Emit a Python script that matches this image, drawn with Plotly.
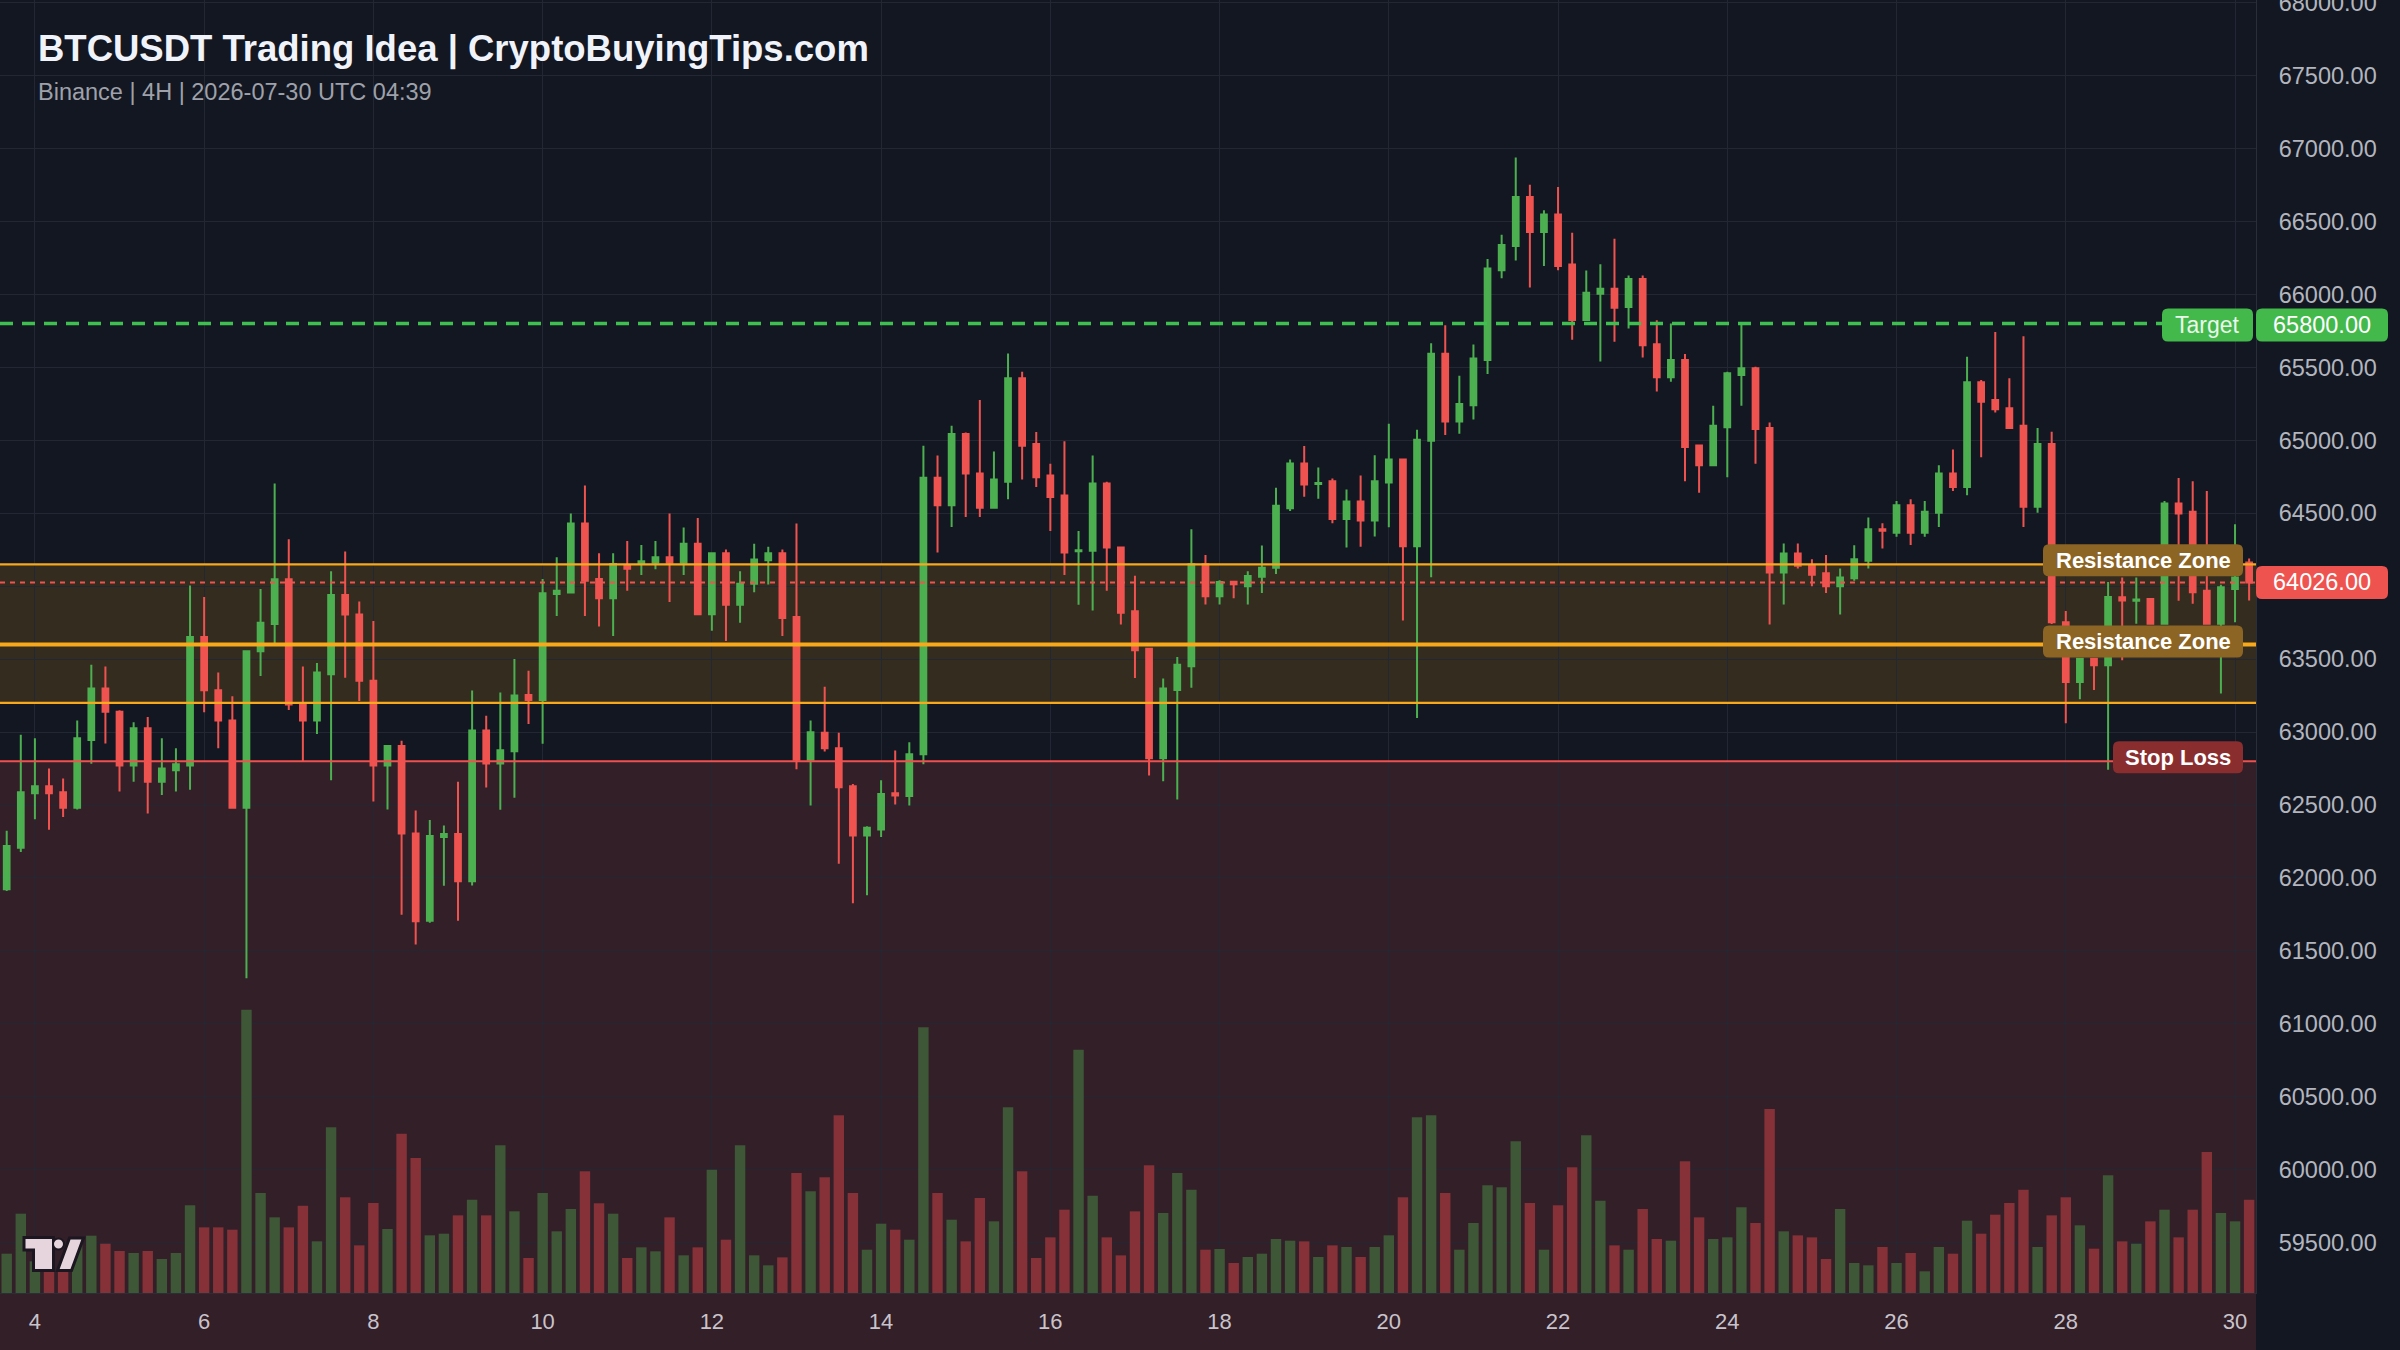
import plotly.graph_objects as go
import pandas as pd

TITLE = "BTCUSDT Trading Idea | CryptoBuyingTips.com"
SUBTITLE = "Binance | 4H | 2026-07-30 UTC 04:39"
START = "2026-07-03 16:00"

open_ = [61922, 62207, 62580, 62629, 62587, 62482, 62945, 63299, 63140, 62770,
         63026, 62660, 62738, 62770, 63652, 63286, 63079, 62482, 63554, 63740,
         64047, 63189, 63079, 63396, 63939, 63805, 63352, 62770, 62904, 62304,
         61706, 62280, 62301, 61977, 63011, 62784, 62868, 63254, 63220, 63946,
         63956, 64429, 64050, 63917, 64140, 64157, 64160, 64199, 64160, 64291,
         63808, 64225, 63873, 64016, 64178, 64225, 63789, 62810, 62996, 62889,
         62628, 62291, 62332, 62580, 62562, 62848, 64743, 64554, 65043, 64772,
         64538, 64715, 65425, 64974, 64758, 64622, 64240, 64242, 64704, 64265,
         63828, 63571, 62821, 63288, 63451, 64151, 63931, 64030, 64000, 64065,
         64126, 64535, 64841, 64700, 64719, 64460, 64580, 64451, 64711, 64869,
         64273, 64997, 65593, 65128, 65240, 65551, 66166, 66331, 66668, 66428,
         66548, 66205, 65824, 66005, 66038, 65914, 66105, 65659, 65432, 65550,
         64965, 64829, 65090, 65447, 65493, 65084, 64094, 64224, 64140, 64088,
         63999, 64054, 64174, 64390, 64367, 64554, 64367, 64504, 64772, 64679,
         65397, 65277, 65220, 65100, 64545, 64974, 63753, 63344, 63503, 63458,
         63924, 63900, 63912, 63742, 64567, 64510, 63969, 63742, 63981, 64163]
high = [62324, 62982, 62958, 62750, 62682, 63079, 63462, 63450, 63150, 63067,
        63104, 62958, 62889, 64005, 63925, 63408, 63245, 63560, 63981, 64704,
        64322, 63450, 63474, 64103, 64237, 63895, 63761, 62910, 62940, 62463,
        62398, 62359, 62659, 63285, 63111, 63272, 63500, 63421, 64050, 64199,
        64499, 64690, 64225, 64225, 64309, 64283, 64309, 64499, 64403, 64468,
        64225, 64251, 64102, 64291, 64270, 64251, 64429, 63080, 63310, 62996,
        62644, 62355, 62669, 62873, 62930, 64963, 64895, 65100, 65054, 65277,
        64924, 65595, 65470, 65056, 64840, 64993, 64379, 64895, 64715, 64270,
        64072, 63575, 63367, 63515, 64390, 64213, 64040, 64034, 64103, 64279,
        64674, 64869, 64961, 64813, 64738, 64663, 64758, 64897, 65114, 64875,
        65072, 65665, 65788, 65443, 65657, 66242, 66409, 66938, 66751, 66576,
        66737, 66423, 66164, 66206, 66381, 66130, 66130, 65823, 65800, 65591,
        64970, 65236, 65470, 65811, 65504, 65122, 64292, 64292, 64185, 64213,
        64122, 64281, 64470, 64431, 64583, 64595, 64583, 64829, 64936, 65572,
        65413, 65743, 65425, 65713, 65084, 65058, 63830, 63510, 63510, 64028,
        64060, 64060, 63915, 64583, 64742, 64720, 64652, 64010, 64424, 64190]
low = [61910, 62178, 62402, 62331, 62417, 62470, 62782, 62921, 62592, 62660,
       62441, 62568, 62592, 62604, 63135, 62889, 62475, 61313, 63384, 63591,
       63152, 62799, 62987, 62670, 63372, 63213, 62524, 62470, 61747, 61544,
       61693, 61946, 61706, 61949, 62620, 62468, 62549, 63056, 62920, 63795,
       63956, 63795, 63724, 63659, 63969, 64076, 64116, 63891, 64076, 63808,
       63695, 63625, 63750, 63959, 64011, 63659, 62745, 62497, 62867, 62098,
       61827, 61882, 62280, 62503, 62496, 62780, 64231, 64406, 64474, 64474,
       64530, 64595, 64731, 64679, 64379, 64076, 63872, 63833, 63969, 63738,
       63371, 62703, 62662, 62537, 63303, 63874, 63875, 63917, 63875, 63953,
       64084, 64516, 64613, 64599, 64432, 64265, 64270, 64340, 64404, 63764,
       63096, 64062, 65036, 65045, 65142, 65454, 66111, 66233, 66047, 66194,
       66166, 65690, 65820, 65540, 65676, 65766, 65568, 65334, 65402, 64720,
       64640, 64825, 64747, 65236, 64840, 63737, 63874, 64122, 63999, 63954,
       63806, 64038, 64122, 64258, 64338, 64283, 64338, 64406, 64652, 64624,
       64884, 65190, 65080, 64406, 64504, 63740, 63060, 63225, 63288, 62742,
       63492, 63742, 63745, 63740, 63900, 63879, 63735, 63265, 63753, 63901]
close = [62219, 62587, 62629, 62580, 62482, 62957, 63299, 63140, 62770, 63026,
         62660, 62750, 62780, 63652, 63286, 63079, 62482, 63554, 63749, 64047,
         63189, 63079, 63408, 63939, 63805, 63352, 62770, 62904, 62304, 61703,
         62288, 62301, 61977, 63011, 62784, 62876, 63251, 63220, 63951, 63969,
         64429, 64037, 63917, 64152, 64120, 64170, 64199, 64160, 64291, 63808,
         64225, 63873, 64016, 64183, 64225, 63781, 62810, 62998, 62889, 62621,
         62291, 62344, 62576, 62565, 62848, 64743, 64554, 65043, 64772, 64538,
         64731, 65425, 64963, 64747, 64611, 64231, 64247, 64704, 64265, 63817,
         63560, 62821, 63299, 63462, 64151, 63931, 64028, 64013, 64070, 64126,
         64552, 64841, 64697, 64708, 64460, 64580, 64451, 64719, 64869, 64273,
         65003, 65593, 65128, 65248, 65560, 66178, 66339, 66668, 66428, 66548,
         66194, 65824, 66011, 66038, 65908, 66105, 65652, 65432, 65550, 64954,
         64829, 65100, 65459, 65493, 65077, 64094, 64224, 64140, 64079, 63999,
         64060, 64185, 64390, 64380, 64554, 64367, 64511, 64772, 64679, 65397,
         65265, 65213, 65084, 64545, 64974, 63753, 63344, 63503, 63458, 63926,
         63901, 63908, 63742, 64567, 64499, 63958, 63742, 63992, 64060, 64026]
volume = [118, 238, 95, 70, 75, 150, 172, 148, 126, 120,
          126, 102, 120, 263, 197, 197, 190, 850, 300, 227,
          197, 262, 155, 497, 287, 143, 270, 192, 478, 405,
          173, 178, 233, 280, 233, 443, 245, 105, 300, 185,
          252, 365, 269, 238, 105, 137, 125, 227, 113, 137,
          370, 160, 443, 113, 83, 107, 360, 305, 347, 533,
          300, 130, 208, 190, 160, 797, 300, 220, 155, 285,
          215, 557, 365, 105, 167, 250, 730, 292, 167, 113,
          245, 383, 240, 360, 310, 130, 132, 90, 108, 118,
          162, 157, 155, 108, 143, 138, 108, 138, 173, 287,
          527, 533, 300, 130, 210, 323, 317, 455, 270, 130,
          263, 377, 473, 277, 143, 130, 252, 162, 157, 395,
          227, 162, 167, 257, 210, 552, 185, 173, 167, 102,
          252, 90, 83, 138, 90, 120, 65, 138, 118, 217,
          178, 235, 270, 310, 138, 233, 287, 203, 133, 353,
          155, 148, 215, 250, 167, 250, 423, 240, 215, 280]

TARGET = 65800
ZONE_1 = (63600, 64150)
ZONE_2 = (63200, 63600)
STOP = 62800
LAST = 64026
tick_days = [4, 6, 8, 10, 12, 14, 16, 18, 20, 22, 24, 26, 28, 30]
price_ticks = [59500 + 500 * k for k in range(18)]

# ---- styling / layout constants ----
W, H = 2400, 1350
ML, MR, MT, MB = 0, 144, 0, 57
PW, PH = W - ML - MR, H - MT - MB
YMIN, YMAX = 59155, 68018
VMAX = 3879
X0, X1 = "2026-07-03 14:06", "2026-07-30 05:57"

BG = "#131722"
GRID = "#232733"
UP = "#4caf50"
DOWN = "#ef5350"
UP_VOL = "#3e5737"
DOWN_VOL = "#853137"
ORANGE = "#f7a81b"
FONT = "Liberation Sans, Arial, sans-serif"

times = pd.date_range(START, periods=len(close), freq="4h")
is_up = [c >= o for o, c in zip(open_, close)]

fig = go.Figure()
fig.add_trace(go.Bar(
    x=times, y=volume, yaxis="y2",
    marker=dict(color=[UP_VOL if u else DOWN_VOL for u in is_up], line_width=0),
    width=0.74 * 4 * 3600 * 1000, hoverinfo="skip"))
fig.add_trace(go.Candlestick(
    x=times, open=open_, high=high, low=low, close=close,
    increasing=dict(line=dict(color=UP, width=2), fillcolor=UP),
    decreasing=dict(line=dict(color=DOWN, width=2), fillcolor=DOWN),
    whiskerwidth=0, hoverinfo="skip"))


def pyp(p):
    return (YMAX - p) / (YMAX - YMIN) * PH


def xp(px):
    return px / PW


def yp(py):
    return (PH - py) / PH


def rrect(x0, x1, yc, h, r=6):
    a, b = xp(x0), xp(x1)
    top, bot = yp(yc - h / 2), yp(yc + h / 2)
    rx, ry = r / PW, r / PH
    return (f"M {a+rx},{top} L {b-rx},{top} Q {b},{top} {b},{top-ry} "
            f"L {b},{bot+ry} Q {b},{bot} {b-rx},{bot} L {a+rx},{bot} "
            f"Q {a},{bot} {a},{bot+ry} L {a},{top-ry} Q {a},{top} {a+rx},{top} Z")


shapes = []
# stop-loss red area (plot + x-axis strip)
shapes.append(dict(type="rect", xref="paper", yref="y", x0=0, x1=1, y0=YMIN, y1=STOP,
                   fillcolor="rgba(239,83,80,0.14)", line_width=0, layer="below"))
shapes.append(dict(type="rect", xref="paper", yref="paper", x0=0, x1=1, y0=-MB / PH - 0.01, y1=0,
                   fillcolor="rgba(239,83,80,0.14)", line_width=0, layer="below"))
# resistance zones
for lo, hi in (ZONE_1, ZONE_2):
    shapes.append(dict(type="rect", xref="paper", yref="y", x0=0, x1=1, y0=lo, y1=hi,
                       fillcolor="rgba(247,168,27,0.15)", line_width=0, layer="below"))
for lvl, w in ((ZONE_1[1], 2.2), (ZONE_1[0], 4), (ZONE_2[0], 2.2)):
    shapes.append(dict(type="line", xref="paper", yref="y", x0=0, x1=1, y0=lvl, y1=lvl,
                       line=dict(color=ORANGE, width=w), layer="above"))
# stop loss line
shapes.append(dict(type="line", xref="paper", yref="y", x0=0, x1=1, y0=STOP, y1=STOP,
                   line=dict(color="#f0514e", width=2), layer="above"))
# target
shapes.append(dict(type="line", xref="paper", yref="y", x0=0, x1=xp(2162), y0=TARGET, y1=TARGET,
                   line=dict(color="#3fbf4f", width=3.5, dash="13px,9px"), layer="above"))
# last price dotted
shapes.append(dict(type="line", xref="paper", yref="y", x0=0, x1=1, y0=LAST, y1=LAST,
                   line=dict(color=DOWN, width=2, dash="5px,5px"), layer="above"))

annotations = []


def label(x0, x1, yc, h, fill, text, size, bold=True, color="#ffffff"):
    shapes.append(dict(type="path", xref="paper", yref="paper", path=rrect(x0, x1, yc, h),
                       fillcolor=fill, line_width=0, layer="above"))
    annotations.append(dict(xref="paper", yref="paper", x=xp((x0 + x1) / 2), y=yp(yc),
                            text=f"<b>{text}</b>" if bold else text, showarrow=False,
                            xanchor="center", yanchor="middle",
                            font=dict(family=FONT, size=size, color=color)))


label(2043, 2243, pyp(ZONE_1[1]) - 4, 32, "#8c6424", "Resistance Zone", 22)
label(2043, 2243, pyp(ZONE_1[0]) - 3, 32, "#8c6424", "Resistance Zone", 22)
label(2113, 2243, pyp(STOP) - 4, 32, "#8a2d2f", "Stop Loss", 22)
label(2162, 2253, pyp(TARGET) + 1.5, 33, "#43b94c", "Target", 23, bold=False, color="#eaf7ea")
label(2256, 2388, pyp(TARGET) + 1.5, 33, "#43b94c", f"{TARGET:.2f}", 23.5, bold=False)
label(2256, 2388, pyp(LAST), 33, "#ef5350", f"{LAST:.2f}", 23.5, bold=False)

# title & subtitle
annotations.append(dict(xref="paper", yref="paper", x=xp(36), y=yp(49), xanchor="left", yanchor="middle",
                        text=f"<b>{TITLE}</b>", showarrow=False,
                        font=dict(family=FONT, size=36.5, color="#f0f3fa")))
annotations.append(dict(xref="paper", yref="paper", x=xp(36), y=yp(92), xanchor="left", yanchor="middle",
                        text=SUBTITLE, showarrow=False,
                        font=dict(family=FONT, size=23.5, color="#9ea1aa")))

# TradingView-style logo
def poly(pts):
    return "M " + " L ".join(f"{xp(a)},{yp(b)}" for a, b in pts) + " Z"


LOGO_FILL, LOGO_EDGE = "#e6d5dc", "#1b1620"
shapes.append(dict(type="path", xref="paper", yref="paper", layer="above",
                   path=poly([(24, 1237.5), (53.5, 1237.5), (53.5, 1270.5), (33.5, 1270.5), (33.5, 1250), (24, 1250)]),
                   fillcolor=LOGO_FILL, line=dict(color=LOGO_EDGE, width=3)))
shapes.append(dict(type="path", xref="paper", yref="paper", layer="above",
                   path=poly([(57.5, 1270.5), (71.5, 1270.5), (83.5, 1238), (69.5, 1238)]),
                   fillcolor=LOGO_FILL, line=dict(color=LOGO_EDGE, width=3)))
shapes.append(dict(type="circle", xref="paper", yref="paper", layer="above",
                   x0=xp(53), x1=xp(64), y0=yp(1249.5), y1=yp(1238.5),
                   fillcolor=LOGO_FILL, line=dict(color=LOGO_EDGE, width=2)))

# price tick labels: the 64000 label sits under the last-price tag, so it is left blank
price_text = ["" if v == 64000 else f"{v:.2f}" for v in price_ticks]

fig.update_layout(
    width=W, height=H,
    template="none",
    paper_bgcolor=BG, plot_bgcolor=BG,
    margin=dict(l=ML, r=MR, t=MT, b=MB, autoexpand=False),
    showlegend=False, hovermode=False,
    boxgap=0.42,
    font=dict(family=FONT, color="#b2b5be"),
    xaxis=dict(type="date", range=[X0, X1], rangeslider=dict(visible=False),
               tickvals=[pd.Timestamp(f"2026-07-{d:02d}") for d in tick_days],
               ticktext=[str(d) for d in tick_days],
               showgrid=True, gridcolor=GRID, gridwidth=1, zeroline=False,
               ticks="", ticklabelstandoff=9, automargin=False,
               tickfont=dict(family=FONT, size=22, color="#c9c3cb"),
               showline=True, linecolor="#2a2e39", linewidth=1),
    yaxis=dict(side="right", range=[YMIN, YMAX], tickvals=price_ticks, ticktext=price_text,
               showgrid=True, gridcolor=GRID, gridwidth=1, zeroline=False,
               ticks="", ticklabelstandoff=17, automargin=False, ticklabeloverflow="allow",
               tickfont=dict(family=FONT, size=23.5, color="#b2b5be"),
               showline=True, linecolor="#2a2e39", linewidth=1),
    yaxis2=dict(overlaying="y", range=[0, VMAX], visible=False, showgrid=False),
    shapes=shapes, annotations=annotations,
)

fig.write_html("out.html")
